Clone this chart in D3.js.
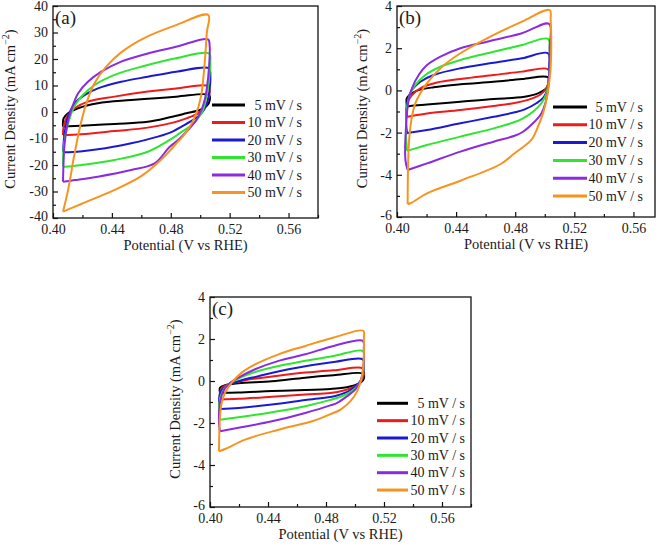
<!DOCTYPE html>
<html><head><meta charset="utf-8">
<script src="https://cdn.jsdelivr.net/npm/d3@7"></script>
<style>
body{margin:0;background:#fff}
svg{display:block}
</style>
</head><body><svg id="chart" width="661" height="547"></svg>
<script>
// ---------- data ----------
const scanRates = ["5 mV / s","10 mV / s","20 mV / s","30 mV / s","40 mV / s","50 mV / s"];
const seriesColors = ["#000000","#f01a1a","#1a1ad2","#2ee62e","#8a2be2","#f7931e"];
const panelLabels = ["(a)","(b)","(c)"];
const xMajorTicks = [0.40,0.44,0.48,0.52,0.56];
const xMinorTicks = [0.42,0.46,0.50,0.54,0.58];
const yMajorTicksA = [-40,-30,-20,-10,0,10,20,30,40];
const yMinorTicksA = [-35,-25,-15,-5,5,15,25,35];
const yMajorTicksBC = [-6,-4,-2,0,2,4];
const yMinorTicksBC = [-5,-3,-1,1,3];
const xTitle = "Potential (V vs RHE)";

// panel (a) loops: [potential V, current density mA cm^-2]
const a5 = [[0.4068,-5.5],[0.4072,-2.4],[0.4102,-0.5],[0.417,1.4],[0.4305,3.3],[0.4531,4.5],[0.4836,5.8],[0.506,6.4],[0.5065,4.5],[0.5045,2.3],[0.4997,0.75],[0.4906,-0.5],[0.4793,-2.0],[0.4644,-3.7],[0.4418,-4.5],[0.4192,-5.2],[0.4068,-5.5]];
const a10 = [[0.4068,-8.7],[0.4072,-5.5],[0.4102,-1.1],[0.4147,1.4],[0.4237,3.9],[0.4418,5.8],[0.4644,7.7],[0.4836,8.9],[0.5053,9.8],[0.5065,7.5],[0.5053,4.5],[0.503,2],[0.4985,-0.5],[0.4906,-2.4],[0.4815,-4.0],[0.4644,-5.9],[0.4418,-7.2],[0.4192,-8.4],[0.4068,-8.7]];
const a20 = [[0.4068,-15],[0.4079,-8],[0.4102,-1.8],[0.4147,3.3],[0.4214,6.4],[0.4305,8.9],[0.4463,11.4],[0.4644,13.3],[0.4836,15.2],[0.506,16.5],[0.5069,14],[0.506,7],[0.5042,2.6],[0.5008,-0.5],[0.4951,-3],[0.4873,-5.5],[0.4815,-7.3],[0.4712,-9.3],[0.4531,-11.8],[0.4305,-14.1],[0.4102,-15.2],[0.4068,-15]];
const a30 = [[0.4068,-20.6],[0.4075,-12],[0.4124,-0.5],[0.4158,3.3],[0.4203,6.4],[0.4283,10.2],[0.4418,14],[0.4599,17.1],[0.4836,20.3],[0.506,22.1],[0.5069,19],[0.5053,9.5],[0.5037,4.5],[0.5019,0.75],[0.4985,-2.4],[0.4929,-5.5],[0.4861,-8],[0.4815,-9.8],[0.4644,-15],[0.4418,-18.1],[0.4192,-20],[0.4102,-20.6],[0.4068,-20.6]];
const a40 = [[0.4068,-26.3],[0.4079,-11.8],[0.41,-4],[0.4124,0.75],[0.417,7],[0.4237,11.4],[0.4328,15.2],[0.4463,19],[0.4644,22.1],[0.4836,24.6],[0.5053,27.4],[0.5064,25],[0.506,17.1],[0.5046,9.5],[0.503,4.5],[0.5008,0.75],[0.4974,-3],[0.4917,-6.8],[0.485,-10.6],[0.4793,-13.1],[0.469,-19.4],[0.4531,-21.9],[0.4305,-24.4],[0.4147,-25.7],[0.4068,-26.3]];
const a50 = [[0.4068,-37.6],[0.4104,-29],[0.4142,-17],[0.4182,-6],[0.4222,2.5],[0.4278,10.5],[0.436,17],[0.4463,22.5],[0.4622,28],[0.4836,32.8],[0.5055,36.6],[0.5045,30],[0.5025,15],[0.5005,5.8],[0.497,-1],[0.493,-5.5],[0.4885,-9],[0.4836,-12],[0.4734,-18],[0.4599,-24.2],[0.4418,-29.4],[0.4192,-34.7],[0.4068,-37.6]];

// panel (b)
const b5 = [[0.4068,-0.77],[0.4066,-0.38],[0.4091,-0.19],[0.4135,-0.01],[0.4248,0.15],[0.4429,0.29],[0.4654,0.41],[0.4846,0.54],[0.5022,0.62],[0.5022,0.26],[0.5004,0.05],[0.4954,-0.14],[0.4864,-0.3],[0.4796,-0.35],[0.4654,-0.41],[0.4429,-0.54],[0.4203,-0.67],[0.4091,-0.74],[0.4068,-0.77]];
const b10 = [[0.4068,-1.25],[0.407,-0.61],[0.4101,-0.22],[0.4158,0.1],[0.4271,0.37],[0.4429,0.54],[0.4654,0.73],[0.4846,0.89],[0.5022,1.0],[0.5026,0.49],[0.5011,0.1],[0.4966,-0.22],[0.4886,-0.45],[0.4796,-0.6],[0.4654,-0.74],[0.4429,-0.93],[0.4203,-1.09],[0.4091,-1.22],[0.4068,-1.25]];
const b20 = [[0.4068,-2.03],[0.4061,-1.4],[0.4072,-0.45],[0.4101,0.02],[0.4158,0.41],[0.4248,0.73],[0.4429,1.05],[0.4654,1.31],[0.4846,1.52],[0.5022,1.76],[0.5029,1.12],[0.5022,0.18],[0.4995,-0.3],[0.4943,-0.61],[0.4864,-0.9],[0.4796,-1.04],[0.4654,-1.25],[0.4429,-1.56],[0.4203,-1.88],[0.4091,-2.0],[0.4068,-2.03]];
const b30 = [[0.4068,-2.86],[0.4061,-2.03],[0.4068,-0.77],[0.4091,-0.14],[0.4124,0.26],[0.4192,0.73],[0.4294,1.12],[0.4429,1.44],[0.4654,1.83],[0.4846,2.15],[0.5022,2.44],[0.5033,1.9],[0.5029,0.65],[0.5011,-0.14],[0.4977,-0.61],[0.492,-1.01],[0.4853,-1.32],[0.4796,-1.5],[0.4654,-1.8],[0.4429,-2.19],[0.4203,-2.59],[0.4091,-2.82],[0.4068,-2.86]];
const b40 = [[0.4072,-3.77],[0.4057,-3.3],[0.4064,-1.4],[0.4079,-0.45],[0.4101,0.1],[0.4147,0.73],[0.4203,1.2],[0.4294,1.6],[0.4429,2.0],[0.4609,2.31],[0.4846,2.71],[0.5029,3.15],[0.5033,2.0],[0.5033,1.12],[0.5022,0.02],[0.5004,-0.61],[0.4977,-1.09],[0.492,-1.56],[0.4853,-1.96],[0.4796,-2.15],[0.4654,-2.43],[0.4429,-2.9],[0.4203,-3.46],[0.4072,-3.77]];
const b50 = [[0.4072,-5.38],[0.4075,-3.5],[0.4082,-2.35],[0.4101,-1.24],[0.4124,-0.61],[0.4158,-0.14],[0.4203,0.34],[0.4294,1.05],[0.4429,1.76],[0.4609,2.47],[0.4846,3.26],[0.5033,3.81],[0.504,3.34],[0.504,1.12],[0.5026,0.18],[0.5011,-0.45],[0.4988,-1.09],[0.4954,-1.72],[0.4909,-2.35],[0.4842,-2.74],[0.4796,-2.98],[0.47,-3.5],[0.4429,-4.28],[0.4203,-4.88],[0.4091,-5.35],[0.4072,-5.38]];

// panel (c)
const c5 = [[0.4069,-0.56],[0.4069,-0.32],[0.4104,-0.2],[0.4196,-0.11],[0.4427,-0.01],[0.4657,0.16],[0.4853,0.27],[0.5054,0.35],[0.5061,0.11],[0.5038,-0.08],[0.4981,-0.24],[0.4888,-0.35],[0.483,-0.38],[0.4657,-0.43],[0.4427,-0.48],[0.4196,-0.55],[0.4069,-0.56]];
const c10 = [[0.4069,-0.88],[0.4069,-0.56],[0.4085,-0.32],[0.4138,-0.13],[0.4242,0.04],[0.4427,0.21],[0.4657,0.4],[0.4853,0.51],[0.5054,0.6],[0.5061,0.32],[0.5043,0],[0.5003,-0.24],[0.4922,-0.45],[0.483,-0.57],[0.4657,-0.64],[0.4427,-0.75],[0.4196,-0.85],[0.4069,-0.88]];
const c20 = [[0.4069,-1.33],[0.4062,-0.96],[0.4076,-0.48],[0.4116,-0.24],[0.4196,-0.01],[0.4334,0.23],[0.4542,0.56],[0.4853,0.9],[0.5054,1.03],[0.5061,0.64],[0.505,0.16],[0.5019,-0.16],[0.4957,-0.48],[0.4877,-0.69],[0.483,-0.76],[0.4657,-0.91],[0.4427,-1.12],[0.4196,-1.28],[0.4069,-1.33]];
const c30 = [[0.4069,-1.84],[0.4062,-1.36],[0.4074,-0.72],[0.4104,-0.32],[0.4161,-0.01],[0.4265,0.32],[0.4427,0.64],[0.4657,0.96],[0.4853,1.19],[0.5054,1.43],[0.5061,1.03],[0.5054,0.32],[0.5033,-0.08],[0.4992,-0.4],[0.4922,-0.69],[0.483,-0.9],[0.4657,-1.2],[0.4427,-1.49],[0.4196,-1.73],[0.4069,-1.84]];
const c40 = [[0.4069,-2.39],[0.4062,-2.0],[0.4069,-1.04],[0.4092,-0.48],[0.4127,-0.16],[0.4196,0.16],[0.4311,0.56],[0.4473,0.96],[0.4657,1.27],[0.4853,1.67],[0.5054,1.91],[0.5061,1.51],[0.5057,0.56],[0.5038,-0.01],[0.5003,-0.4],[0.4946,-0.72],[0.4877,-1.04],[0.483,-1.16],[0.4657,-1.52],[0.4427,-1.92],[0.4196,-2.23],[0.4069,-2.39]];
const c50 = [[0.4062,-3.35],[0.4069,-1.68],[0.4081,-1.04],[0.4104,-0.56],[0.415,-0.08],[0.4219,0.4],[0.4311,0.79],[0.4473,1.27],[0.4657,1.67],[0.4853,2.07],[0.5057,2.39],[0.5061,1.99],[0.5057,0.71],[0.5043,0.08],[0.5015,-0.48],[0.4969,-0.96],[0.49,-1.36],[0.483,-1.58],[0.4704,-1.92],[0.4473,-2.32],[0.4242,-2.79],[0.4104,-3.24],[0.4062,-3.35]];

// ---------- drawing ----------
const FONT = "'Liberation Serif', 'Times New Roman', 'DejaVu Serif', serif";
const TXT = "#1a1a1a";
const svg = d3.select("#chart");
const panels = [
  {label:panelLabels[0], loops:[a5,a10,a20,a30,a40,a50], xDomain:[0.40,0.58], yDomain:[-40,40],
   yMajor:yMajorTicksA, yMinor:yMinorTicksA, left:53, right:318, top:6, bottom:218,
   legX1:212, legX2:245, legTextX:302, legY0:105, legDy:17.5, yTitleX:12},
  {label:panelLabels[1], loops:[b5,b10,b20,b30,b40,b50], xDomain:[0.40,0.5746], yDomain:[-6,4],
   yMajor:yMajorTicksBC, yMinor:yMinorTicksBC, left:397, right:655, top:6, bottom:217,
   legX1:553, legX2:587, legTextX:643, legY0:107, legDy:17.8, yTitleX:364},
  {label:panelLabels[2], loops:[c5,c10,c20,c30,c40,c50], xDomain:[0.40,0.58], yDomain:[-6,4],
   yMajor:yMajorTicksBC, yMinor:yMinorTicksBC, left:210, right:471, top:297, bottom:507,
   legX1:377, legX2:408, legTextX:465, legY0:403.3, legDy:17.35, yTitleX:177}
];

panels.forEach((p, pi) => {
  const g = svg.append("g");
  const x = d3.scaleLinear().domain(p.xDomain).range([p.left, p.right]);
  const y = d3.scaleLinear().domain(p.yDomain).range([p.bottom, p.top]);

  const line = d3.line().x(d => x(d[0])).y(d => y(d[1])).curve(d3.curveCatmullRom.alpha(0.5));
  p.loops.forEach((pts, i) => {
    g.append("path").attr("d", line(pts)).attr("fill", "none")
      .attr("stroke", seriesColors[i]).attr("stroke-width", 2).attr("stroke-linejoin", "round");
  });

  // frame
  g.append("rect").attr("x", p.left).attr("y", p.top)
    .attr("width", p.right - p.left).attr("height", p.bottom - p.top)
    .attr("fill", "none").attr("stroke", "#111").attr("stroke-width", 1.3);

  // x axis
  const xa = g.append("g").attr("transform", `translate(0,${p.bottom})`)
    .call(d3.axisBottom(x).tickValues(xMajorTicks).tickSize(-5).tickPadding(6).tickFormat(d3.format(".2f")));
  const xm = g.append("g").attr("transform", `translate(0,${p.bottom})`)
    .call(d3.axisBottom(x).tickValues(xMinorTicks.filter(v => v <= p.xDomain[1])).tickSize(-3).tickFormat(""));
  // y axis
  const ya = g.append("g").attr("transform", `translate(${p.left},0)`)
    .call(d3.axisLeft(y).tickValues(p.yMajor).tickSize(-5).tickPadding(5).tickFormat(d3.format("d")));
  const ym = g.append("g").attr("transform", `translate(${p.left},0)`)
    .call(d3.axisLeft(y).tickValues(p.yMinor).tickSize(-3).tickFormat(""));
  [xa, xm, ya, ym].forEach(a => {
    a.attr("font-family", null).attr("font-size", null);
    a.select(".domain").remove();
    a.selectAll("line").attr("stroke", "#111").attr("stroke-width", 1.2);
    a.selectAll("text").style("font-family", FONT).style("font-size", "14px").attr("fill", TXT);
  });
  ya.selectAll("text").text(d => d < 0 ? "-" + Math.abs(d) : d)
    .attr("dy", (d, i) => i === 0 ? "0.2em" : "0.32em");

  // axis titles
  g.append("text").attr("x", (p.left + p.right) / 2).attr("y", p.bottom + 32)
    .attr("text-anchor", "middle").style("font-family", FONT).style("font-size", "14.5px").attr("fill", TXT).text(xTitle);
  const yt = g.append("text").attr("transform", `translate(${p.yTitleX},${(p.top + p.bottom) / 2 - 3}) rotate(-90)`)
    .attr("text-anchor", "middle").attr("dominant-baseline", "middle")
    .style("font-family", FONT).style("font-size", "14.5px").attr("fill", TXT);
  yt.append("tspan").text("Current Density (mA cm");
  yt.append("tspan").attr("dy", -5).style("font-size", "10px").text("\u22122");
  yt.append("tspan").attr("dy", 5).text(")");

  // panel label
  g.append("text").attr("x", p.left + 2).attr("y", p.top + 18)
    .style("font-family", FONT).style("font-size", "19px").attr("fill", TXT).text(p.label);

  // legend
  scanRates.forEach((s, i) => {
    const ly = p.legY0 + i * p.legDy;
    g.append("line").attr("x1", p.legX1).attr("x2", p.legX2).attr("y1", ly).attr("y2", ly)
      .attr("stroke", seriesColors[i]).attr("stroke-width", 3);
    g.append("text").attr("x", p.legTextX).attr("y", ly).attr("dy", "0.33em")
      .attr("text-anchor", "end").style("font-family", FONT).style("font-size", "14px").attr("fill", TXT).text(s);
  });
});
</script>
</body></html>
